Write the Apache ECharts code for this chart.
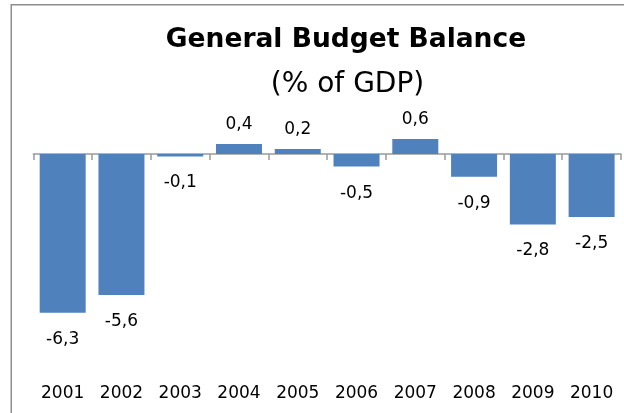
<!DOCTYPE html>
<html>
<head>
<meta charset="utf-8">
<script src="https://cdn.jsdelivr.net/npm/echarts@6/dist/echarts.min.js"></script>
<style>
  html, body { margin: 0; padding: 0; background: #ffffff; }
  #chart { width: 624px; height: 413px; }
</style>
</head>
<body>
<div id="chart"></div>
<script>
// General government budget balance, % of GDP
const years = ['2001', '2002', '2003', '2004', '2005', '2006', '2007', '2008', '2009', '2010'];
const balance = [-6.3, -5.6, -0.1, 0.4, 0.2, -0.5, 0.6, -0.9, -2.8, -2.5];

const FONT = 'DejaVu Sans';
const BAR_COLOR = '#4F81BD';
const AXIS_COLOR = '#9a9a9a';

// decimal comma, one digit
const fmt = v => v.toFixed(1).replace('.', ',');

const chart = echarts.init(document.getElementById('chart'), null, { renderer: 'canvas' });

chart.setOption({
  animation: false,
  backgroundColor: '#ffffff',
  textStyle: { fontFamily: FONT },
  graphic: [
    {
      type: 'rect',
      z: -10,
      shape: { x: 11.25, y: 4.75, width: 700, height: 500 },
      style: { fill: 'none', stroke: '#8e8e8e', lineWidth: 1.5 }
    },
    {
      type: 'text',
      x: 346, y: 26.5,
      style: {
        text: 'General Budget Balance',
        font: 'bold 26.5px "' + FONT + '"',
        fill: '#000000',
        align: 'center',
        verticalAlign: 'top'
      }
    },
    {
      type: 'text',
      x: 347.5, y: 71,
      style: {
        text: '(% of GDP)',
        font: '28px "' + FONT + '"',
        fill: '#000000',
        align: 'center',
        verticalAlign: 'top'
      }
    }
  ],
  grid: { left: 33.3, right: 3, top: 128.8, height: 252, containLabel: false },
  xAxis: [
    {
      // zero line with tick marks between the years
      type: 'category',
      data: years,
      position: 'bottom',
      axisLine: { onZero: true, lineStyle: { color: AXIS_COLOR, width: 1.5 } },
      axisTick: { show: true, length: 6, lineStyle: { color: AXIS_COLOR, width: 1.5 } },
      axisLabel: { show: false },
      splitLine: { show: false }
    },
    {
      // year labels along the bottom
      type: 'category',
      data: years,
      position: 'bottom',
      axisLine: { show: false, onZero: false },
      axisTick: { show: false },
      axisLabel: { show: true, margin: 4, color: '#000000', fontFamily: FONT, fontSize: 17, interval: 0 },
      splitLine: { show: false }
    }
  ],
  yAxis: {
    type: 'value',
    min: -9,
    max: 1,
    interval: 1,
    show: false,
    splitLine: { show: false }
  },
  series: [
    {
      type: 'bar',
      xAxisIndex: 0,
      barWidth: 46,
      itemStyle: { color: BAR_COLOR },
      label: {
        show: true,
        color: '#000000',
        fontFamily: FONT,
        fontSize: 17,
        formatter: p => fmt(p.value)
      },
      data: balance.map(v => ({
        value: v,
        label: { position: v < 0 ? 'bottom' : 'top', distance: v < 0 ? 18 : 11 }
      }))
    }
  ]
});
</script>
</body>
</html>
